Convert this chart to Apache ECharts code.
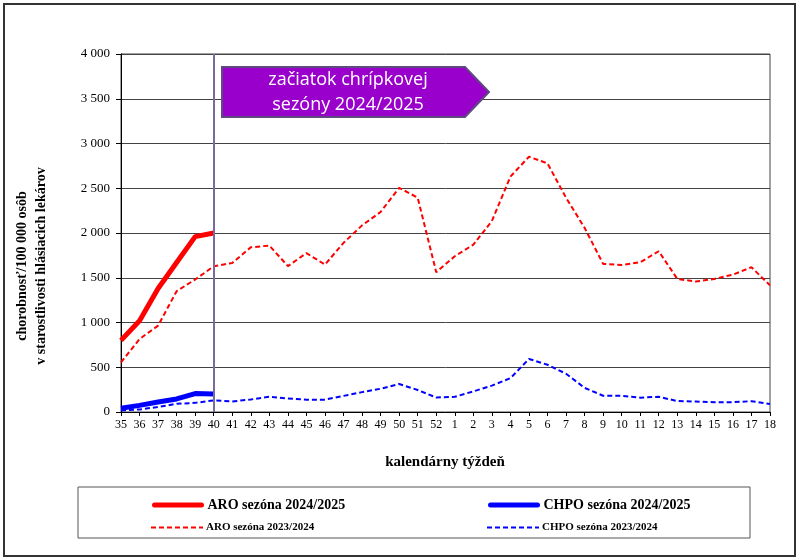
<!DOCTYPE html>
<html>
<head>
<meta charset="utf-8">
<script src="https://cdn.jsdelivr.net/npm/echarts@6/dist/echarts.min.js"></script>
<style>html,body{margin:0;padding:0;background:#fff}#c{width:800px;height:560px}</style>
</head>
<body>
<div id="c"></div>
<script>
var weeks = ['35','36','37','38','39','40','41','42','43','44','45','46','47','48','49','50','51','52',
             '1','2','3','4','5','6','7','8','9','10','11','12','13','14','15','16','17','18'];
var aro2425 = [800, 1020, 1380, 1670, 1960, 2000];
var chpo2425 = [42, 74, 112, 146, 206, 200];
var aro2324 = [555, 815, 965, 1350, 1480, 1628, 1665, 1840, 1860, 1630, 1775, 1647, 1890, 2085, 2235, 2505, 2395, 1562,
               1740, 1870, 2133, 2630, 2852, 2778, 2394, 2058, 1655, 1643, 1673, 1796, 1487, 1457, 1487, 1535, 1617, 1415];
var chpo2324 = [18, 28, 56, 92, 102, 130, 118, 140, 170, 150, 138, 138, 180, 222, 260, 312, 246, 162,
                170, 230, 295, 378, 593, 528, 428, 270, 182, 182, 160, 170, 122, 117, 110, 110, 121, 90];
var yTicks = [0, 500, 1000, 1500, 2000, 2500, 3000, 3500, 4000];
var names = ['ARO sezóna 2024/2025', 'CHPO sezóna 2024/2025', 'ARO sezóna 2023/2024', 'CHPO sezóna 2023/2024'];

var serif = '"Liberation Serif", "Times New Roman", serif';
var chart = echarts.init(document.getElementById('c'), null, {renderer: 'canvas'});

function leg(name, left, top, size, color, width, type, cap, iw, pad) {
  return {
    data: [name], left: left, top: top, itemWidth: iw, itemHeight: 14, itemGap: 4, selectedMode: false,
    itemStyle: {opacity: 0},
    lineStyle: {color: color, width: width, type: type, cap: cap},
    textStyle: {fontFamily: serif, fontWeight: 'bold', fontSize: size, color: '#000', padding: [0, 0, 0, pad]}
  };
}

chart.setOption({
  animation: false,
  backgroundColor: '#fff',
  grid: {left: 121, right: 30, top: 54, bottom: 148, show: true, borderColor: '#444', borderWidth: 1},
  xAxis: {
    type: 'category', data: weeks, boundaryGap: false,
    axisLine: {lineStyle: {color: '#000', width: 1}},
    axisTick: {show: true, inside: false, length: 4, interval: 0, lineStyle: {color: '#000'}},
    axisLabel: {interval: 0, fontFamily: serif, fontSize: 12, color: '#000', margin: 7},
    splitLine: {show: false}
  },
  yAxis: {
    type: 'value', min: 0, max: 4000, interval: 500,
    axisLine: {show: true, lineStyle: {color: '#000', width: 1}},
    axisTick: {show: true, length: 5, lineStyle: {color: '#000'}},
    axisLabel: {fontFamily: serif, fontSize: 13, color: '#000', margin: 11,
      formatter: function (v) { return yTicks.indexOf(v) >= 0 ? String(v).replace(/\B(?=(\d{3})+(?!\d))/g, ' ') : ''; }},
    splitLine: {show: true, lineStyle: {color: '#444', width: 1}}
  },
  legend: [
    leg(names[0], 147, 493, 14, '#ff0000', 5, 'solid', 'round', 47, 1),
    leg(names[1], 483, 493, 14, '#0000ff', 5, 'solid', 'round', 47, 1),
    leg(names[2], 145, 517, 11, '#ff0000', 2, [5, 3], 'butt', 52, -2),
    leg(names[3], 481, 517, 11, '#0000ff', 2, [5, 3], 'butt', 52, -2)
  ],
  series: [
    {name: names[2], type: 'line', data: aro2324, symbol: 'none', z: 3,
     lineStyle: {color: '#ff0000', width: 2, type: [5, 3]}, itemStyle: {color: '#ff0000'}},
    {name: names[3], type: 'line', data: chpo2324, symbol: 'none', z: 3,
     lineStyle: {color: '#0000ff', width: 2, type: [5, 3]}, itemStyle: {color: '#0000ff'}},
    {name: names[0], type: 'line', data: aro2425, symbol: 'none', z: 4,
     lineStyle: {color: '#ff0000', width: 5}, itemStyle: {color: '#ff0000'},
     markLine: {symbol: 'none', silent: true, label: {show: false},
       lineStyle: {color: '#7a6aa2', width: 2, type: 'solid'},
       data: [{xAxis: '40'}]}},
    {name: names[1], type: 'line', data: chpo2425, symbol: 'none', z: 4,
     lineStyle: {color: '#0000ff', width: 5}, itemStyle: {color: '#0000ff'}}
  ],
  graphic: [
    {type: 'rect', shape: {x: 4, y: 4, width: 791, height: 552}, style: {fill: 'none', stroke: '#333', lineWidth: 2}, z: 0, silent: true},
    {type: 'rect', shape: {x: 78, y: 487, width: 672, height: 51}, style: {fill: 'none', stroke: '#555', lineWidth: 1}, z: 0, silent: true},
    {type: 'polygon', shape: {points: [[222, 67], [465, 67], [489, 92], [465, 117], [222, 117]]},
     style: {fill: '#9900cc', stroke: '#5e4a80', lineWidth: 2}, z: 100, silent: true},
    {type: 'text', x: 348, y: 92, z: 101, silent: true,
     style: {text: 'začiatok chrípkovej\nsezóny 2024/2025', fill: '#fff', font: '18px "Open Sans", "Noto Sans", sans-serif',
       align: 'center', verticalAlign: 'middle', lineHeight: 25}},
    {type: 'text', x: 32, y: 266, rotation: Math.PI / 2, z: 10, silent: true,
     style: {text: 'chorobnosť/100 000 osôb\nv starostlivosti hlásiacich lekárov', fill: '#000',
       font: 'bold 14px ' + serif, align: 'center', verticalAlign: 'middle', lineHeight: 19}},
    {type: 'text', x: 445, y: 462, z: 10, silent: true,
     style: {text: 'kalendárny týždeň', fill: '#000', font: 'bold 15px ' + serif, align: 'center', verticalAlign: 'middle'}}
  ]
});
</script>
</body>
</html>
